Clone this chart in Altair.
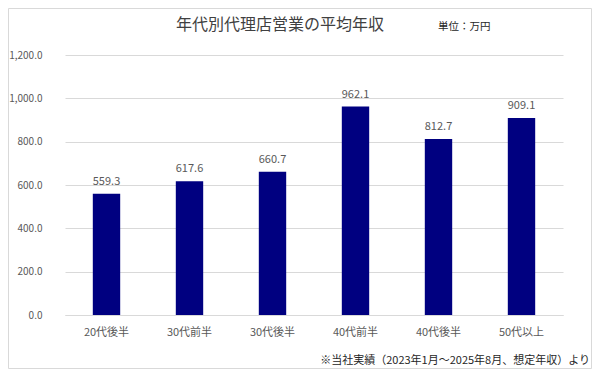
import altair as alt
import pandas as pd

categories = ["20代後半", "30代前半", "30代後半", "40代前半", "40代後半", "50代以上"]
values = [559.3, 617.6, 660.7, 962.1, 812.7, 909.1]
y_ticks = [0, 200, 400, 600, 800, 1000, 1200]

title_text = "年代別代理店営業の平均年収"
unit_text = "単位：万円"
note_text = "※当社実績（2023年1月～2025年8月、想定年収）より"

FONT = "Noto Sans CJK JP"
df = pd.DataFrame({"cat": categories, "val": values})

W, H = 498, 260

base = alt.Chart(df)

x_enc = alt.X("cat:N", sort=categories, title=None,
              scale=alt.Scale(paddingInner=0.67, paddingOuter=0.335),
              axis=alt.Axis(labelAngle=0, labelFontSize=11, labelColor="#595959",
                            labelFont=FONT, labelPadding=11, ticks=False,
                            domainColor="#d9d9d9", grid=False))
y_enc = alt.Y("val:Q", title=None,
              scale=alt.Scale(domain=[0, 1200], nice=False),
              axis=alt.Axis(values=y_ticks, format=",.1f", labelFontSize=10,
                            labelColor="#595959", labelFont=FONT, labelPadding=23,
                            ticks=False, domain=False, gridColor="#d9d9d9"))

bars = base.mark_bar(color="#000080").encode(x=x_enc, y=y_enc)
labels = base.mark_text(baseline="bottom", dy=-7, fontSize=11, color="#595959",
                        font=FONT).encode(
    x=alt.X("cat:N", sort=categories), y="val:Q", text=alt.Text("val:Q", format=".1f"))

deco = pd.DataFrame({"t": [title_text]})
title = alt.Chart(deco).mark_text(fontSize=16, color="#404040", font=FONT,
                                  align="center", baseline="middle").encode(
    x=alt.value(215), y=alt.value(-30), text="t:N")
unit = alt.Chart(pd.DataFrame({"t": [unit_text]})).mark_text(
    fontSize=10.5, color="#262626", font=FONT, align="left", baseline="middle").encode(
    x=alt.value(373), y=alt.value(-28), text="t:N")
note = alt.Chart(pd.DataFrame({"t": [note_text]})).mark_text(
    fontSize=11, color="#262626", font=FONT, align="right", baseline="middle").encode(
    x=alt.value(525), y=alt.value(306), text="t:N")
border = alt.Chart(pd.DataFrame({"a": [0]})).mark_rect(
    fill=None, stroke="#d9d9d9", strokeWidth=1).encode(
    x=alt.value(-56.5), x2=alt.value(526.5), y=alt.value(-46.5), y2=alt.value(313.5))

chart = alt.layer(bars, labels, title, unit, note, border).properties(
    width=W, height=H,
    background="white",
    autosize=alt.AutoSizeParams(type="none"),
    padding={"left": 57, "top": 47, "right": 29, "bottom": 54},
).configure_view(stroke=None)

chart.save("out.html", embed_options={"renderer": "svg", "actions": False})
